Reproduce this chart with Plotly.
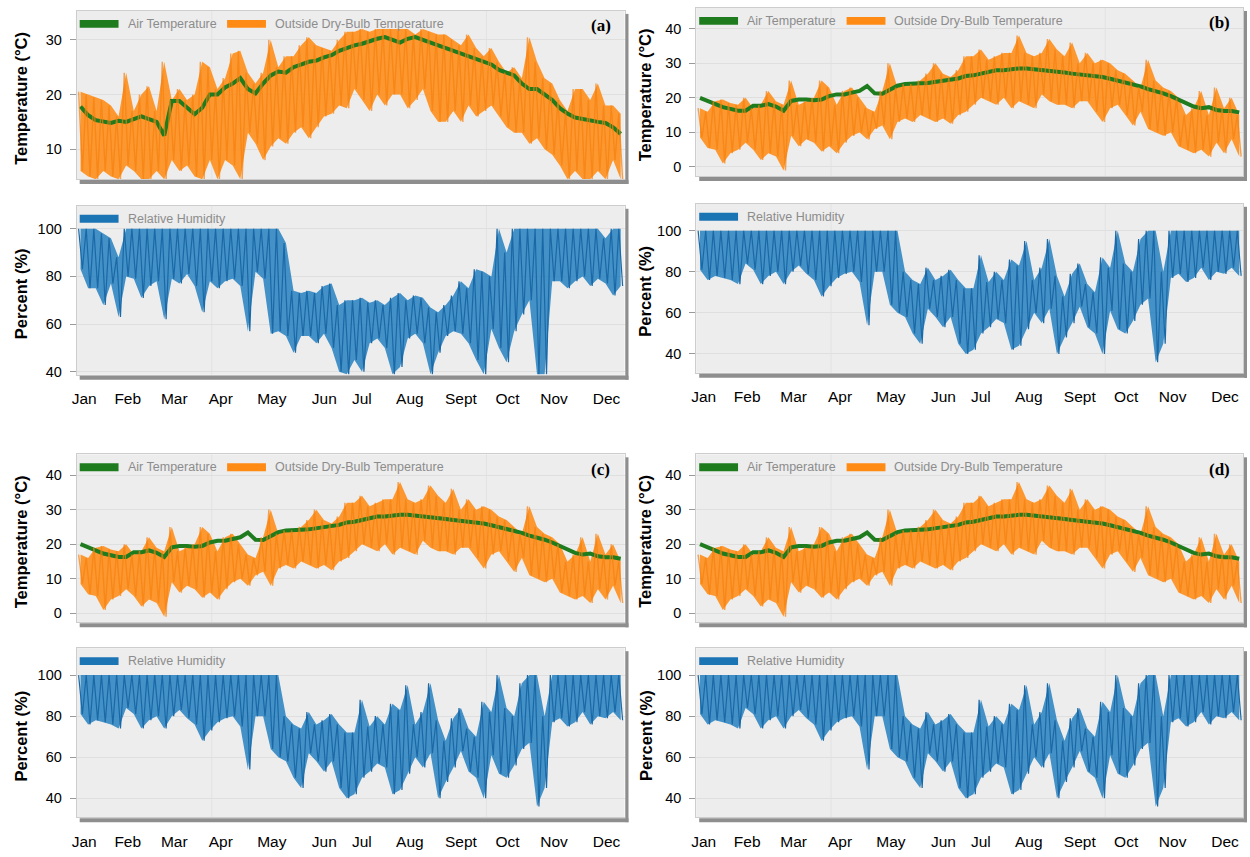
import plotly.graph_objects as go

W, H = 1250, 857

# ---------------- tick labels ----------------
months = ["Jan", "Feb", "Mar", "Apr", "May", "Jun", "Jul", "Aug", "Sept", "Oct", "Nov", "Dec"]
month_tick_days = [5, 34, 65, 96, 130, 165, 190, 222, 256, 287, 318, 353]
temp_ticks_a = [10, 20, 30]
temp_ticks_b = [0, 10, 20, 30, 40]
rh_ticks = [40, 60, 80, 100]
DAYS = 365

# ---------------- data: 72 five-day bins ----------------
# Panel (a)
a_air = [17.8, 16.2, 15.3, 15.0, 14.8, 15.2,
         15.0, 15.5, 16.0, 15.5, 15.0, 12.5,
         18.8, 18.8, 17.5, 16.4, 17.6, 20.0,
         20.0, 21.3, 22.0, 23.0, 21.0, 20.2,
         22.0, 23.5, 24.2, 24.0, 25.0, 25.5,
         26.0, 26.2, 26.8, 27.2, 28.0, 28.5,
         29.0, 29.3, 29.8, 30.2, 30.5, 30.0,
         29.5, 30.2, 30.5, 30.0, 29.5, 29.0,
         28.5, 28.0, 27.5, 27.0, 26.5, 26.0,
         25.5, 24.5, 24.0, 23.5, 22.0, 21.0,
         21.0, 20.0, 19.0, 17.5, 16.5, 15.8,
         15.5, 15.2, 15.0, 14.8, 14.0, 12.8]
a_out_hi = [20.5, 20, 19.5, 19, 18, 16,
            24, 17, 20, 21.5, 17, 26,
            19, 21, 19, 20, 26, 25,
            21, 23, 27.5, 28, 24, 22,
            24, 30, 25, 27, 27, 29,
            30.5, 29, 28.5, 28, 30, 31.5,
            31.5, 32, 31.5, 32, 32, 32,
            32, 32, 31, 32, 31.5, 31,
            31, 30, 29, 31, 28.5, 27,
            28.5, 26, 24, 25, 23, 30.5,
            26, 23, 22, 19, 17, 21,
            21, 19, 22, 18, 18, 16.5]
a_out_lo = [6, 5, 4.5, 6, 5, 4.5,
            7, 6, 4.5, 4.5, 6, 4.5,
            8, 6, 7, 5, 4.5, 8,
            4.5, 8, 7, 4.5, 13, 11,
            8, 10.5, 12, 11, 13, 14,
            12, 14, 16, 16.5, 18, 17.5,
            21, 19, 17, 20, 18, 20,
            20, 17.5, 19, 21, 17, 15,
            15, 17, 15, 18, 16, 17,
            18, 16, 14, 13, 13, 11,
            12, 10, 9, 7, 4.5, 6,
            4.5, 4.5, 6, 4.5, 8, 4.5]
a_rh_hi = [100, 100, 100, 98, 96, 88,
           100, 100, 100, 100, 100, 100,
           100, 100, 100, 100, 100, 100,
           100, 100, 100, 100, 100, 100,
           100, 100, 100, 94, 74, 73,
           74, 73, 76, 77, 68, 70,
           70, 71, 69, 70, 68, 71,
           73, 70, 72, 71, 67, 65,
           68, 72, 78, 75, 83, 82,
           80, 100, 90, 100, 100, 100,
           100, 100, 100, 100, 100, 100,
           100, 100, 100, 96, 100, 100]
a_rh_lo = [83, 75, 75, 68, 77, 63,
           80, 79, 71, 76, 78, 62,
           79, 77, 81, 76, 65, 78,
           75, 78, 79, 76, 57, 82,
           79, 56, 57, 55, 48, 55,
           55, 52, 56, 50, 40, 39,
           45, 40, 52, 54, 50, 39,
           42, 54, 56, 52, 39, 48,
           55, 57, 56, 52, 45, 39,
           58, 50, 44, 57, 64, 70,
           39, 39, 78, 78, 75, 78,
           80, 76, 79, 77, 72, 76]

# Panels (b), (c), (d)
b_air = [20.0, 19.0, 18.2, 17.3, 16.8, 16.3,
         16.3, 17.7, 17.7, 18.2, 17.5, 16.3,
         19.1, 19.5, 19.5, 19.3, 19.5, 20.5,
         21.0, 21.0, 21.5, 22.0, 23.4, 21.3,
         21.2, 22.5, 23.5, 24.0, 24.0, 24.2,
         24.3, 24.6, 25.0, 25.2, 25.6, 26.3,
         26.5, 27.0, 27.5, 28.0, 28.0, 28.3,
         28.5, 28.5, 28.3, 28.0, 27.8, 27.5,
         27.3, 27.0, 26.8, 26.5, 26.3, 26.0,
         25.5, 25.0, 24.5, 24.0, 23.3, 22.5,
         22.0, 21.3, 20.5, 19.5, 18.5, 17.5,
         17.0, 17.3, 16.5, 16.2, 16.2, 15.8]
b_out_hi = [17, 16, 19, 19.5, 18.5, 18,
            20, 17, 18, 22, 19, 18,
            25, 18, 19, 20, 25, 23,
            18, 22, 23, 20, 17, 16,
            22, 30, 23, 24, 24, 25,
            27, 30, 27, 26, 28, 32,
            32, 34, 31, 32, 33, 33,
            38, 33, 32, 33, 37, 34,
            32, 36, 30, 33, 30, 31,
            30, 28, 27, 25, 23, 31,
            25, 23, 22, 20, 15, 17,
            22, 15, 23, 17, 20, 15]
b_out_lo = [8.5, 5.5, 5, 1, 4, 5,
            7, 5, 2, 4, 3, -1,
            9, 6, 8, 7, 4.5, 6,
            4, 7, 9, 10, 8, 11,
            12, 8, 13, 14, 13, 15,
            14, 13, 14, 12.5, 15, 16,
            18, 20, 19, 18, 20, 17,
            19, 18, 17, 21, 19, 18,
            18, 17, 19, 19, 16, 13,
            17, 18, 15, 12, 16, 11,
            10, 9, 10, 6, 5, 4,
            5, 3, 7, 4, 8, 3]
b_rh_hi = [100, 100, 100, 100, 100, 100,
           100, 100, 100, 100, 100, 100,
           100, 100, 100, 100, 100, 100,
           100, 100, 100, 100, 100, 100,
           100, 100, 100, 80, 76, 74,
           82, 76, 78, 81, 76, 72,
           72, 88, 75, 80, 76, 86,
           83, 95, 76, 82, 96, 78,
           68, 79, 84, 74, 70, 87,
           82, 100, 84, 80, 96, 100,
           100, 80, 100, 100, 100, 100,
           100, 100, 100, 100, 100, 100]
b_rh_lo = [81, 76, 78, 77, 76, 74,
           84, 81, 74, 78, 80, 74,
           80, 83, 79, 76, 68, 73,
           77, 79, 80, 75, 54, 80,
           80, 64, 60, 58, 50, 45,
           62, 58, 53, 58, 45, 40,
           42, 50, 53, 57, 55, 42,
           44, 52, 60, 55, 62, 40,
           48, 55, 63, 53, 50, 40,
           61, 52, 50, 56, 64, 67,
           36, 45, 77, 79, 75, 77,
           82, 76, 80, 79, 82, 78]

# ---------------- styles ----------------
FONT = "Liberation Sans, Arial, Helvetica, sans-serif"
SERIF = "Liberation Serif, Times New Roman, serif"
GREEN = "#1e7b1e"
ORANGE = "#ff8a14"
ORANGE_LINE = "rgba(245,128,14,0.7)"
ORANGE_FILL = "rgba(255,140,22,0.88)"
BLUE = "#1b74b4"
BLUE_LINE = "#1a68a6"
BLUE_FILL = "rgba(36,128,192,0.85)"
LEG_TXT = "#8c8c8c"


def centers(vals):
    w = DAYS / len(vals)
    return [(i + 0.5) * w for i in range(len(vals))]


def zigzag(hi, lo):
    w = DAYS / len(hi)
    xs, ys = [], []
    for i, (h, l) in enumerate(zip(hi, lo)):
        xs += [(i + 0.25) * w, (i + 0.75) * w]
        ys += [h, l]
    return xs, ys


def band(hi, lo):
    xc = centers(hi)
    return xc + xc[::-1], list(hi) + list(lo)[::-1]


def px(v):
    return v / W


def py(v):
    return 1 - v / H


site_a = dict(air=a_air, hi=a_out_hi, lo=a_out_lo, rh_hi=a_rh_hi, rh_lo=a_rh_lo)
site_b = dict(air=b_air, hi=b_out_hi, lo=b_out_lo, rh_hi=b_rh_hi, rh_lo=b_rh_lo)

panels = [
    dict(tag="(a)", data=site_a, x=(72, 622), ty=(11, 180), ry=(207, 377),
         trange=[4.55, 35.3], rrange=[38.75, 109.6], tticks=temp_ticks_a, title_x=16),
    dict(tag="(b)", data=site_b, x=(694, 1243), ty=(8, 177), ry=(205, 375),
         trange=[-2.6, 46.0], rrange=[30.8, 113.1], tticks=temp_ticks_b, title_x=643),
    dict(tag="(c)", data=site_b, x=(72, 622), ty=(457, 626), ry=(652, 822),
         trange=[-2.6, 46.0], rrange=[30.8, 113.1], tticks=temp_ticks_b, title_x=16),
    dict(tag="(d)", data=site_b, x=(694, 1243), ty=(457, 626), ry=(652, 822),
         trange=[-2.6, 46.0], rrange=[30.8, 113.1], tticks=temp_ticks_b, title_x=643),
]

fig = go.Figure()
layout = dict(width=W, height=H, margin=dict(l=0, r=0, t=0, b=0),
              paper_bgcolor="white", plot_bgcolor="#ededed", showlegend=False)
shapes, annotations = [], []

k = 0
for p in panels:
    d = p["data"]
    x0, x1 = p["x"]
    for kind in ("temp", "rh"):
        k += 1
        sx = "" if k == 1 else str(k)
        y0, y1 = p["ty"] if kind == "temp" else p["ry"]
        xa, ya = "x" + sx, "y" + sx
        if kind == "temp":
            bx, by = band(d["hi"], d["lo"])
            fig.add_trace(go.Scatter(x=bx, y=by, mode="lines", fill="toself",
                                     fillcolor=ORANGE_FILL, line=dict(width=0),
                                     xaxis=xa, yaxis=ya, name="Outside Dry-Bulb Temperature"))
            fig.add_trace(go.Scatter(x=centers(d["air"]), y=d["air"], mode="lines",
                                     line=dict(color=GREEN, width=4), xaxis=xa, yaxis=ya,
                                     name="Air Temperature"))
            zx, zy = zigzag(d["hi"], d["lo"])
            fig.add_trace(go.Scatter(x=zx, y=zy, mode="lines",
                                     line=dict(color=ORANGE_LINE, width=1.4), xaxis=xa, yaxis=ya,
                                     name="Outside Dry-Bulb Temperature"))
            yr, yt = p["trange"], p["tticks"]
        else:
            bx, by = band(d["rh_hi"], d["rh_lo"])
            fig.add_trace(go.Scatter(x=bx, y=by, mode="lines", fill="toself",
                                     fillcolor=BLUE_FILL, line=dict(width=0),
                                     xaxis=xa, yaxis=ya, name="Relative Humidity"))
            zx, zy = zigzag(d["rh_hi"], d["rh_lo"])
            fig.add_trace(go.Scatter(x=zx, y=zy, mode="lines",
                                     line=dict(color=BLUE_LINE, width=1.2), xaxis=xa, yaxis=ya,
                                     name="Relative Humidity"))
            yr, yt = p["rrange"], rh_ticks

        layout["xaxis" + sx] = dict(
            domain=[px(x0), px(x1)], range=[0, DAYS], anchor=ya,
            showgrid=False, zeroline=False, showline=True, mirror=True,
            linecolor="#cdcdcd", linewidth=1, ticks="",
            tickvals=month_tick_days, ticktext=months,
            showticklabels=(kind == "rh"), ticklabelstandoff=10,
            tickfont=dict(family=FONT, size=15.5, color="black"))
        layout["yaxis" + sx] = dict(
            domain=[py(y1), py(y0)], range=yr, anchor=xa,
            tickvals=yt, ticks="outside", ticklen=6, tickcolor="#9a9a9a",
            showgrid=True, gridcolor="#dfdfdf", zeroline=False,
            showline=True, mirror=True, linecolor="#cdcdcd", linewidth=1,
            ticklabelstandoff=5,
            tickfont=dict(family=FONT, size=14.5, color="black"))

        for gd in (90, 273):
            shapes.append(dict(type="line", xref=xa, yref=ya + " domain", x0=gd, x1=gd,
                               y0=0, y1=1, line=dict(color="#e2e2e2", width=1), layer="below"))
        shapes.append(dict(type="rect", xref="paper", yref="paper",
                           x0=px(x0 + 3), x1=px(x1 + 4), y0=py(y1 + 5), y1=py(y1 + 1),
                           fillcolor="#8e8e8e", line=dict(width=0)))
        shapes.append(dict(type="rect", xref="paper", yref="paper",
                           x0=px(x1 + 1), x1=px(x1 + 4), y0=py(y1 + 5), y1=py(y0 + 3),
                           fillcolor="#8e8e8e", line=dict(width=0)))

        if kind == "temp":
            items = [(GREEN, "Air Temperature", 0), (ORANGE, "Outside Dry-Bulb Temperature", 148)]
        else:
            items = [(BLUE, "Relative Humidity", 0)]
        cy = y0 + 13
        for col, txt, off in items:
            shapes.append(dict(type="rect", xref="paper", yref="paper",
                               x0=px(x0 + 3 + off), x1=px(x0 + 42 + off),
                               y0=py(cy + 4), y1=py(cy - 4),
                               fillcolor=col, line=dict(width=0)))
            annotations.append(dict(xref="paper", yref="paper", x=px(x0 + 49 + off), y=py(cy),
                                    text=txt, showarrow=False, xanchor="left", yanchor="middle",
                                    font=dict(family=FONT, size=12.5, color=LEG_TXT)))

        annotations.append(dict(xref="paper", yref="paper", x=px(p["title_x"]),
                                y=py((y0 + y1) / 2 + 3),
                                text="<b>Temperature (°C)</b>" if kind == "temp" else "<b>Percent (%)</b>",
                                textangle=-90, showarrow=False, xanchor="center", yanchor="middle",
                                font=dict(family=FONT, size=16.5, color="black")))
        if kind == "temp":
            annotations.append(dict(xref="paper", yref="paper", x=px(x1 - 24), y=py(y0 + 15),
                                    text="<b>" + p["tag"] + "</b>", showarrow=False,
                                    xanchor="center", yanchor="middle",
                                    font=dict(family=SERIF, size=17, color="black")))

layout["shapes"] = shapes
layout["annotations"] = annotations
fig.update_layout(**layout)
fig.write_html("out.html", config={"displayModeBar": False},
               post_script="document.body.style.margin='0px';document.body.style.overflow='hidden';")
